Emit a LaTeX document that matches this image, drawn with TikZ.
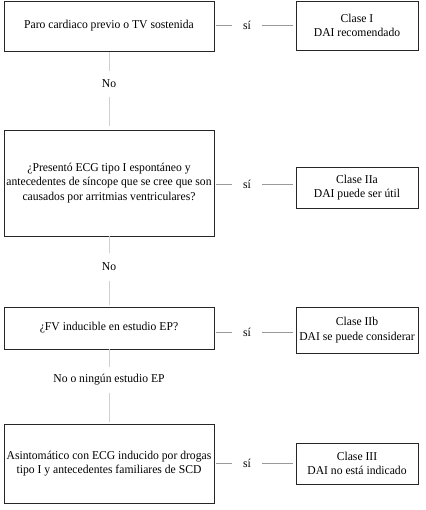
\documentclass[tikz,border=0pt]{standalone}
\usepackage{fontspec}
\setmainfont{Liberation Serif}[FakeStretch=0.97]
\begin{document}
\begin{tikzpicture}[x=1pt,y=-1pt,
  box/.style={draw=black!85,line width=0.9pt,align=center,inner sep=0pt,font=\fontsize{12}{14.5}\selectfont},
  lbl/.style={inner sep=0pt,font=\fontsize{12}{14.5}\selectfont},
  hcon/.style={draw=black!40,line width=0.8pt},
  vcon/.style={draw=black!18,line width=0.8pt}]
\useasboundingbox (0,0) rectangle (425,510);
% left boxes
\node[box,minimum width=210pt,minimum height=50pt] (b1) at (109,26) {Paro cardiaco previo o TV sostenida};
\node[box,minimum width=210pt,minimum height=106pt] (b2) at (109,183) {¿Presentó ECG tipo I espontáneo y\\antecedentes de síncope que se cree que son\\causados por arritmias ventriculares?};
\node[box,minimum width=210pt,minimum height=42pt] (b3) at (109,328) {¿FV inducible en estudio EP?};
\node[box,minimum width=210pt,minimum height=79pt] (b4) at (109,463.5) {Asintomático con ECG inducido por drogas\\tipo I y antecedentes familiares de SCD};
% right boxes
\node[box,minimum width=122pt,minimum height=49pt] (r1) at (357,25.5) {Clase I\\DAI recomendado};
\node[box,minimum width=122pt,minimum height=41pt] (r2) at (357,187.5) {Clase IIa\\DAI puede ser útil};
\node[box,minimum width=122pt,minimum height=46pt] (r3) at (357,330) {Clase IIb\\DAI se puede considerar};
\node[box,minimum width=122pt,minimum height=41pt] (r4) at (357,463.5) {Clase III\\DAI no está indicado};
% si labels
\node[lbl,minimum width=30pt] (s1) at (247,25) {sí};
\node[lbl,minimum width=30pt] (s2) at (247,184) {sí};
\node[lbl,minimum width=30pt] (s3) at (247,332) {sí};
\node[lbl,minimum width=30pt] (s4) at (247,463) {sí};
\foreach \i in {1,2,3,4}{
  \draw[hcon,shorten <=2pt] (b\i.east |- s\i) -- (s\i.west);
  \draw[hcon,shorten >=3pt] (s\i.east) -- (r\i.west |- s\i);
}
% no labels
\node[lbl,minimum height=25pt] (n1) at (109,84) {No};
\node[lbl,minimum height=28pt] (n2) at (109,267) {No};
\node[lbl,minimum height=26pt] (n3) at (109,380) {No o ningún estudio EP};
\draw[vcon,shorten <=1pt] (b1.south) -- (n1.north);
\draw[vcon,shorten >=4pt] (n1.south) -- (b2.north);
\draw[vcon] (b2.south) -- (n2.north);
\draw[vcon,shorten >=2pt] (n2.south) -- (b3.north);
\draw[vcon] (b3.south) -- (n3.north);
\draw[vcon,shorten >=2pt] (n3.south) -- (b4.north);
\end{tikzpicture}
\end{document}
